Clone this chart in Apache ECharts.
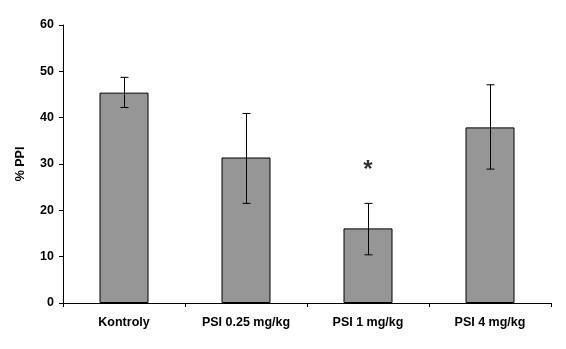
<!DOCTYPE html>
<html lang="cs">
<head>
    <meta charset="UTF-8">
    <title>% PPI</title>
    <script src="https://cdn.jsdelivr.net/npm/echarts@6/dist/echarts.min.js"></script>
</head>
<body style="margin:0;background:#fff;">
<div id="main" style="width: 566px;height: 349px;"></div>

<script type="text/javascript">
    // data
    var categories = ['Kontroly', 'PSI 0.25 mg/kg', 'PSI 1 mg/kg', 'PSI 4 mg/kg'];
    var means = [45.4, 31.4, 16.1, 37.9];
    var errUpper = [48.7, 40.9, 21.5, 47.1];
    var errLower = [42.2, 21.5, 10.4, 28.9];
    var starValue = [null, null, 28.6, null]; // hvezdicka nad PSI 1 mg/kg

    var font = 'Liberation Sans, Arial, sans-serif';

    var myChart = echarts.init(document.getElementById('main'));

    var option = {
        animation: false,
        backgroundColor: '#fff',
        grid: {left: 63, right: 15, top: 25, bottom: 46},
        xAxis: {
            type: 'category',
            data: categories,
            axisLine: {lineStyle: {color: '#000', width: 1}},
            axisTick: {show: true, length: 4, lineStyle: {color: '#000'}},
            axisLabel: {color: '#000', fontFamily: font, fontWeight: 'bold', fontSize: 12.5, margin: 13}
        },
        yAxis: {
            type: 'value',
            min: 0,
            max: 60,
            interval: 10,
            name: '% PPI',
            nameLocation: 'middle',
            nameRotate: 90,
            nameGap: 36,
            nameTextStyle: {color: '#000', fontFamily: font, fontWeight: 'bold', fontSize: 12.5},
            splitLine: {show: false},
            axisLine: {show: true, lineStyle: {color: '#000', width: 1}},
            axisTick: {show: true, length: 4, lineStyle: {color: '#000'}},
            axisLabel: {color: '#000', fontFamily: font, fontWeight: 'bold', fontSize: 12.5, margin: 9}
        },
        series: [
            { // sloupce
                type: 'bar',
                data: means,
                barWidth: 49,
                itemStyle: {color: '#969696', borderColor: '#000', borderWidth: 1}
            },
            { // chybove usecky
                type: 'custom',
                data: categories.map(function (c, i) { return [i, errLower[i], errUpper[i]]; }),
                z: 10,
                renderItem: function (params, api) {
                    var lo = api.coord([api.value(0), api.value(1)]);
                    var hi = api.coord([api.value(0), api.value(2)]);
                    var x = Math.round(lo[0]) + 0.5;
                    var w = 4;
                    var st = {stroke: '#000', lineWidth: 1};
                    return {
                        type: 'group',
                        children: [
                            {type: 'line', shape: {x1: x, y1: hi[1], x2: x, y2: lo[1]}, style: st},
                            {type: 'line', shape: {x1: x - w, y1: hi[1], x2: x + w, y2: hi[1]}, style: st},
                            {type: 'line', shape: {x1: x - w, y1: lo[1], x2: x + w, y2: lo[1]}, style: st}
                        ]
                    };
                }
            },
            { // hvezdicka
                type: 'scatter',
                data: starValue,
                symbolSize: 0,
                label: {
                    show: true,
                    position: 'inside',
                    formatter: '*',
                    color: '#000',
                    fontFamily: font,
                    fontWeight: 'bold',
                    fontSize: 24
                }
            }
        ]
    };

    myChart.setOption(option);
</script>
</body>
</html>
